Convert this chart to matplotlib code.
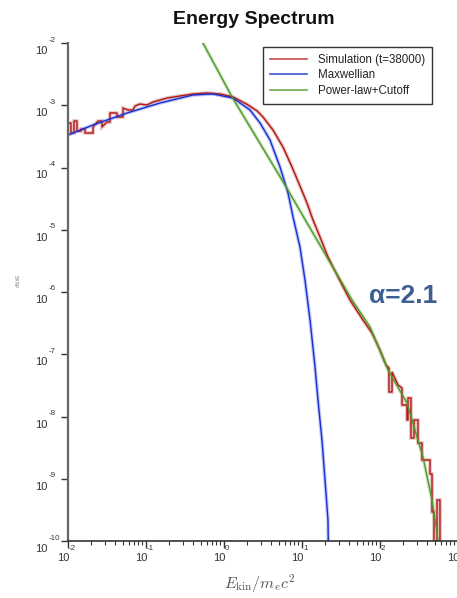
import numpy as np
import matplotlib
matplotlib.use("Agg")
import matplotlib.pyplot as plt
from matplotlib.transforms import offset_copy, blended_transform_factory
from matplotlib.ticker import LogLocator, NullFormatter, FixedLocator
from matplotlib.lines import Line2D

plt.rcParams['font.family'] = ['Liberation Sans', 'DejaVu Sans']
plt.rcParams['mathtext.fontset'] = 'cm'

# ---- data (log10 values) ----
sim_log_e = [-2.000, -1.962, -1.962, -1.923, -1.923, -1.885, -1.885, -1.833, -1.833, -1.782,
             -1.782, -1.679, -1.679, -1.615, -1.564, -1.564, -1.500, -1.462, -1.462, -1.372,
             -1.372, -1.295, -1.295, -1.231, -1.167, -1.141, -1.077, -0.987, -0.910, -0.731,
             -0.564, -0.397, -0.218, -0.051, 0.115, 0.295, 0.423, 0.500, 0.628, 0.756,
             0.872, 0.974, 1.064, 1.141, 1.231, 1.333, 1.462, 1.615, 1.782, 1.897,
             2.000, 2.077, 2.115, 2.115, 2.154, 2.154, 2.231, 2.282, 2.282, 2.346,
             2.346, 2.359, 2.359, 2.397, 2.397, 2.436, 2.436, 2.487, 2.487, 2.538,
             2.538, 2.641, 2.641, 2.667, 2.667, 2.692, 2.692, 2.731, 2.731, 2.769, 2.769]
sim_log_n = [-3.285, -3.285, -3.446, -3.446, -3.253, -3.253, -3.414, -3.414, -3.382, -3.382,
             -3.446, -3.446, -3.349, -3.253, -3.253, -3.349, -3.269, -3.269, -3.124, -3.124,
             -3.189, -3.189, -3.044, -3.076, -3.076, -3.012, -2.980, -2.996, -2.948, -2.884,
             -2.851, -2.819, -2.803, -2.819, -2.867, -2.985, -3.090, -3.189, -3.398, -3.671,
             -3.992, -4.297, -4.570, -4.843, -5.116, -5.438, -5.759, -6.129, -6.450, -6.659,
             -6.932, -7.173, -7.221, -7.606, -7.606, -7.285, -7.494, -7.542, -7.815, -7.815,
             -8.056, -8.056, -7.703, -7.703, -8.345, -8.345, -8.056, -8.056, -8.426, -8.426,
             -8.699, -8.699, -8.924, -8.924, -9.534, -9.534, -10.3, -10.3, -9.341, -9.341, -10.3]

maxw_log_e = [-2.000, -1.679, -1.244, -0.821, -0.397, -0.141, 0.115, 0.333, 0.462, 0.590,
              0.718, 0.821, 0.885, 0.974, 1.038, 1.103, 1.167, 1.205, 1.256, 1.295, 1.333, 1.340]
maxw_log_n = [-3.478, -3.317, -3.125, -2.964, -2.835, -2.819, -2.884, -3.076, -3.285, -3.558,
              -3.992, -4.410, -4.795, -5.277, -5.807, -6.450, -7.205, -7.735, -8.378, -9.020, -9.663, -10.3]

fit_log_e = [-0.300, 0.103, 0.744, 1.641, 1.872, 2.103, 2.346, 2.551, 2.667, 2.731, 2.769]
fit_log_n = [-1.930, -2.867, -4.201, -6.129, -6.562, -7.253, -7.783, -8.651, -9.341, -9.871, -10.3]

labels = ['Simulation (t=38000)', 'Maxwellian', 'Power-law+Cutoff']
title = 'Energy Spectrum'
x_exps = [-2, -1, 0, 1, 2, 3]
y_exps = [-2, -3, -4, -5, -6, -7, -8, -9, -10]

W, H = 457, 598
fig = plt.figure(figsize=(W / 100, H / 100), dpi=100)
ax = fig.add_axes([68 / W, (H - 541) / H, 390 / W, 498 / H])
ax.set_xscale('log')
ax.set_yscale('log')
ax.set_xlim(1e-2, 1e3)
ax.set_ylim(1e-10, 1e-2)

def tolin(a):
    return np.power(10.0, np.array(a))

c_sim, c_max, c_fit = '#b01818', '#1a2fd0', '#4c9a2a'
for xs, ys, h in [(sim_log_e, sim_log_n, '#d9898a'),
                  (maxw_log_e, maxw_log_n, '#8c9cf0'),
                  (fit_log_e, fit_log_n, '#a8d090')]:
    ax.plot(tolin(xs), tolin(ys), color=h, lw=2.6, alpha=0.55, solid_joinstyle='miter')
ax.plot(tolin(sim_log_e), tolin(sim_log_n), color=c_sim, lw=1.0)
ax.plot(tolin(maxw_log_e), tolin(maxw_log_n), color=c_max, lw=1.0)
ax.plot(tolin(fit_log_e), tolin(fit_log_n), color=c_fit, lw=1.0)

leg_handles = [Line2D([], [], color='#c0504d', lw=1.2),
               Line2D([], [], color='#3a55d0', lw=1.2),
               Line2D([], [], color='#6aaa4a', lw=1.2)]
leg = ax.legend(leg_handles, labels, loc='upper left',
                bbox_to_anchor=(263 / W, 1 - 47 / H), bbox_transform=fig.transFigure,
                borderaxespad=0, fontsize=8.3, handlelength=3.2, handletextpad=1.0,
                labelspacing=0.3, borderpad=0.6, fancybox=False, framealpha=1)
leg.get_frame().set_edgecolor('#333333')
leg.get_frame().set_linewidth(1.0)
for t in leg.get_texts():
    t.set_color('#222222')

for s in ['top', 'right']:
    ax.spines[s].set_visible(False)
ax.spines['left'].set_color('#666666')
ax.spines['left'].set_linewidth(1.6)
ax.spines['bottom'].set_color('#333333')
ax.spines['bottom'].set_linewidth(1.2)

ax.xaxis.set_major_locator(FixedLocator([10.0 ** e for e in x_exps]))
ax.xaxis.set_minor_locator(LogLocator(base=10, subs=np.arange(2, 10), numticks=20))
ax.yaxis.set_major_locator(FixedLocator([10.0 ** e for e in y_exps]))
ax.yaxis.set_minor_locator(FixedLocator([]))
ax.xaxis.set_major_formatter(NullFormatter())
ax.xaxis.set_minor_formatter(NullFormatter())
ax.yaxis.set_major_formatter(NullFormatter())
ax.tick_params(axis='both', which='major', direction='out', length=5, width=1.0, color='#333333')
ax.tick_params(axis='x', which='minor', direction='out', length=3, width=0.8, color='#333333')

tx = blended_transform_factory(ax.transData, ax.transAxes)
ty = blended_transform_factory(ax.transAxes, ax.transData)
lab_col = '#333333'
for e in x_exps:
    ax.text(10.0 ** e, 0, '10', transform=offset_copy(tx, fig, x=1, y=-17, units='dots'),
            ha='right', va='center', fontsize=8, color=lab_col, clip_on=False)
    ax.text(10.0 ** e, 0, str(e), transform=offset_copy(tx, fig, x=1, y=-7, units='dots'),
            ha='left', va='center', fontsize=5.8, color=lab_col, clip_on=False)
for e in y_exps:
    ax.text(0, 10.0 ** e, '10', transform=offset_copy(ty, fig, x=-21, y=-8, units='dots'),
            ha='right', va='center', fontsize=8, color=lab_col, clip_on=False)
    ax.text(0, 10.0 ** e, str(e), transform=offset_copy(ty, fig, x=-19, y=3, units='dots'),
            ha='left', va='center', fontsize=5.8, color=lab_col, clip_on=False)

fig.text(254 / W, 1 - 19 / H, title, ha='center', va='center', fontsize=14,
         fontweight='bold', color='#111111')
fig.text(260 / W, 1 - 584 / H, r'$E_{\rm kin}/m_ec^2$', ha='center', va='center',
         fontsize=11.5, color='#555555')
fig.text(18 / W, 1 - 280 / H, 'dN/dE', ha='center', va='center', rotation=90,
         fontsize=3.5, color='#888888')
fig.text(403 / W, 1 - 296 / H, 'α=2.1', ha='center', va='center', fontsize=19,
         fontweight='bold', color='#3d5f94')

fig.savefig('out.png', dpi=100)
